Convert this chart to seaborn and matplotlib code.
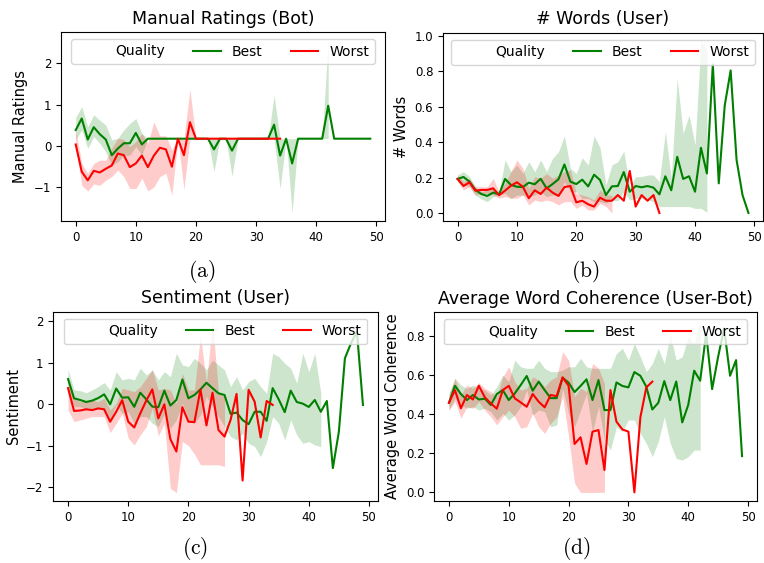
import numpy as np
import pandas as pd
import matplotlib
matplotlib.use("Agg")
import matplotlib.pyplot as plt
import seaborn as sns
from matplotlib.lines import Line2D

nan = np.nan

# ---------------- (a) Manual Ratings (Bot) ----------------
a_best = [0.38, 0.66, 0.15, 0.45, 0.28, 0.15, -0.23, -0.07, 0.06, 0.06,
          0.31, 0.03, 0.17, 0.17, 0.17, 0.17, 0.17, 0.17, 0.17, 0.17,
          0.17, 0.17, 0.17, -0.09, 0.17, 0.17, -0.12, 0.17, 0.17, 0.17,
          0.17, 0.17, 0.17, 0.51, -0.24, 0.17, -0.43, 0.17, 0.17, 0.17,
          0.17, 0.17, 0.97, 0.17, 0.17, 0.17, 0.17, 0.17, 0.17, 0.17]
a_best_lo = [0.15, 0.38, -0.06, 0.22, 0.06, -0.15, -0.47, -0.39, -0.23, -0.23,
             -0.02, -0.23, 0.17, 0.17, 0.17, 0.17, 0.17, 0.17, 0.17, 0.17,
             0.17, 0.17, 0.17, -0.63, 0.17, 0.17, -0.74, 0.17, 0.17, 0.17,
             0.17, 0.17, 0.17, 0.17, -1.04, 0.17, -1.63, 0.17, 0.17, 0.17,
             0.17, 0.17, 0.17, nan, nan, nan, nan, nan, nan, nan]
a_best_hi = [0.69, 0.95, 0.46, 0.75, 0.62, 0.50, 0.14, 0.18, 0.38, 0.54,
             0.66, 0.30, 0.17, 0.17, 0.17, 0.17, 0.17, 0.17, 0.17, 0.17,
             0.17, 0.17, 0.17, 0.17, 0.17, 0.17, 0.17, 0.17, 0.17, 0.17,
             0.17, 0.17, 0.17, 1.22, 0.17, 0.17, 0.17, 0.17, 0.17, 0.17,
             0.17, 0.17, 2.56, nan, nan, nan, nan, nan, nan, nan]
a_worst = [0.03, -0.63, -0.84, -0.61, -0.65, -0.56, -0.48, -0.19, -0.23, -0.52,
           -0.43, -0.24, -0.52, -0.24, -0.05, -0.09, -0.51, 0.17, -0.23, 0.57,
           0.17, 0.17, 0.17, 0.17, 0.17, 0.17, 0.17, 0.17, 0.17, 0.17,
           0.17, 0.17, 0.17, 0.17, 0.17]
a_worst_lo = [0.02, -0.96, -1.10, -0.93, -0.96, -0.84, -0.75, -0.59, -0.75, -1.04,
              -1.04, -0.79, -1.10, -1.00, -0.75, -0.67, -1.20, 0.17, -1.06, 0.17,
              0.17, 0.17, 0.17, 0.17, 0.17, 0.17, 0.17, nan, nan, nan,
              nan, nan, nan, nan, nan]
a_worst_hi = [0.38, -0.43, -0.67, -0.43, -0.35, -0.35, -0.06, 0.18, 0.15, -0.02,
              0.10, 0.30, 0.06, 0.58, 0.24, 0.24, -0.10, 0.17, 0.17, 1.37,
              0.17, 0.17, 0.17, 0.17, 0.17, 0.17, 0.17, nan, nan, nan,
              nan, nan, nan, nan, nan]

# ---------------- (b) # Words (User) ----------------
b_best = [0.192, 0.203, 0.177, 0.130, 0.107, 0.096, 0.115, 0.105, 0.192, 0.158,
          0.148, 0.146, 0.171, 0.162, 0.193, 0.139, 0.163, 0.190, 0.274, 0.177,
          0.163, 0.188, 0.150, 0.216, 0.186, 0.101, 0.150, 0.152, 0.231, 0.120,
          0.152, 0.145, 0.152, 0.143, 0.105, 0.207, 0.128, 0.317, 0.192, 0.207,
          0.120, 0.368, 0.223, 0.838, 0.167, 0.605, 0.804, 0.299, 0.101, 0.0]
b_best_lo = [0.177, 0.158, 0.148, 0.101, 0.079, 0.064, 0.092, 0.101, 0.111, 0.082,
             0.101, 0.101, 0.092, 0.101, 0.120, 0.092, 0.101, 0.101, 0.177, 0.120,
             0.120, 0.082, 0.082, 0.064, 0.064, 0.055, 0.073, 0.068, 0.120, 0.073,
             0.082, 0.082, 0.073, 0.064, 0.036, 0.036, 0.036, 0.036, 0.036, 0.036,
             0.026, 0.026, 0.004, nan, nan, nan, nan, nan, nan, nan]
b_best_hi = [0.215, 0.233, 0.205, 0.148, 0.120, 0.130, 0.139, 0.120, 0.299, 0.233,
             0.271, 0.223, 0.289, 0.233, 0.299, 0.233, 0.308, 0.345, 0.435, 0.252,
             0.223, 0.312, 0.271, 0.435, 0.368, 0.158, 0.271, 0.289, 0.349, 0.145,
             0.205, 0.205, 0.214, 0.214, 0.177, 0.458, 0.195, 0.759, 0.449, 0.552,
             0.383, 0.967, 0.920, nan, nan, nan, nan, nan, nan, nan]
b_worst = [0.192, 0.152, 0.173, 0.126, 0.130, 0.130, 0.139, 0.100, 0.126, 0.154,
           0.173, 0.148, 0.083, 0.128, 0.107, 0.143, 0.115, 0.096, 0.146, 0.152,
           0.060, 0.069, 0.049, 0.036, 0.086, 0.069, 0.069, 0.101, 0.069, 0.237,
           0.036, 0.101, 0.069, 0.101, 0.0]
b_worst_lo = [0.177, 0.130, 0.148, 0.101, 0.111, 0.111, 0.101, 0.083, 0.092, 0.083,
              0.083, 0.101, 0.045, 0.073, 0.064, 0.073, 0.064, 0.045, 0.064, 0.064,
              0.026, 0.045, 0.017, 0.017, 0.054, 0.036, 0.0, nan, nan, nan,
              nan, nan, nan, nan, nan]
b_worst_hi = [0.214, 0.177, 0.195, 0.148, 0.148, 0.148, 0.195, 0.120, 0.167, 0.233,
              0.299, 0.252, 0.139, 0.205, 0.195, 0.223, 0.195, 0.214, 0.233, 0.242,
              0.111, 0.101, 0.092, 0.073, 0.130, 0.101, 0.101, nan, nan, nan,
              nan, nan, nan, nan, nan]

# ---------------- (c) Sentiment (User) ----------------
c_best = [0.61, 0.145, 0.105, 0.056, 0.088, 0.15, 0.24, 0.0, 0.38, 0.16,
          0.17, -0.06, 0.28, 0.12, -0.056, -0.07, 0.33, -0.03, 0.105, 0.60,
          0.145, 0.225, 0.36, 0.52, 0.39, 0.265, 0.225, -0.23, -0.20, -0.38,
          -0.48, -0.18, -0.18, -0.40, 0.39, 0.12, -0.19, 0.33, 0.056, 0.016,
          -0.064, 0.105, -0.18, 0.08, -1.54, -0.66, 1.11, 1.47, 1.75, -0.016]
c_best_lo = [0.426, -0.056, -0.056, -0.12, -0.097, -0.097, -0.097, -0.378, -0.016, -0.217,
             -0.177, -0.459, -0.298, -0.298, -0.459, -0.539, -0.217, -0.579, -0.378, 0.024,
             -0.378, -0.459, -0.257, 0.185, -0.056, -0.298, -0.539, -0.78, -0.861, -0.70,
             -0.941, -1.02, -1.263, -0.90, -0.298, -0.459, -0.861, -0.378, -0.74, -0.941,
             -0.90, -0.981, -1.02, nan, nan, nan, nan, nan, nan, nan]
c_best_hi = [0.845, 0.346, 0.33, 0.28, 0.346, 0.426, 0.523, 0.346, 0.788, 0.587,
             0.628, 0.587, 0.869, 0.708, 0.829, 0.587, 0.788, 0.668, 1.231, 0.949,
             0.909, 1.11, 0.99, 0.829, 1.07, 0.949, 0.829, 0.426, 0.668, 0.346,
             0.547, 0.628, 0.426, 0.265, 1.231, 1.15, 0.99, 0.869, 0.507, 1.231,
             0.788, 1.231, 0.265, nan, nan, nan, nan, nan, nan, nan]
c_worst = [0.39, -0.16, -0.15, -0.12, -0.14, -0.10, -0.12, -0.42, -0.18, 0.10,
           -0.42, -0.56, -0.22, 0.09, 0.36, -0.34, 0.0, -0.84, -1.14, -0.07,
           -0.42, -0.43, 0.36, -0.51, 0.28, -0.62, -0.78, -0.38, 0.25, -1.84,
           0.35, 0.064, -0.80, 0.08, -0.016]
c_worst_lo = [-0.137, -0.418, -0.378, -0.338, -0.298, -0.298, -0.298, -0.684, -0.459, -0.217,
              -0.82, -0.981, -0.74, -0.539, -0.097, -0.764, -0.459, -2.03, -2.13, -0.90,
              -1.0, -1.2, -1.46, -1.46, -1.46, -1.46, -1.5, nan, nan, nan,
              nan, nan, nan, nan, nan]
c_worst_hi = [0.587, 0.145, 0.064, 0.064, 0.105, 0.064, 0.145, -0.137, 0.024, 0.386,
              0.346, 0.306, 0.426, 0.628, 0.829, 0.346, 0.386, 0.346, 0.024, 0.748,
              0.346, 0.346, 1.673, 0.507, 2.035, 0.265, 0.185, nan, nan, nan,
              nan, nan, nan, nan, nan]

# ---------------- (d) Average Word Coherence (User-Bot) ----------------
d_best = [0.457, 0.544, 0.502, 0.471, 0.497, 0.474, 0.478, 0.446, 0.502, 0.522,
          0.471, 0.505, 0.548, 0.594, 0.519, 0.565, 0.522, 0.481, 0.481, 0.585,
          0.560, 0.512, 0.543, 0.577, 0.471, 0.573, 0.420, 0.420, 0.561, 0.543,
          0.536, 0.614, 0.595, 0.539, 0.423, 0.457, 0.568, 0.471, 0.566, 0.357,
          0.446, 0.621, 0.570, 0.811, 0.527, 0.692, 0.837, 0.595, 0.675, 0.185]
d_best_lo = [0.420, 0.480, 0.446, 0.429, 0.437, 0.420, 0.429, 0.412, 0.369, 0.403,
             0.369, 0.395, 0.437, 0.522, 0.395, 0.420, 0.412, 0.335, 0.344, 0.531,
             0.403, 0.335, 0.420, 0.505, 0.310, 0.437, 0.267, 0.216, 0.335, 0.310,
             0.369, 0.369, 0.301, 0.250, 0.182, 0.259, 0.386, 0.250, 0.173, 0.165,
             0.182, 0.216, 0.216, nan, nan, nan, nan, nan, nan, nan]
d_best_hi = [0.505, 0.582, 0.548, 0.531, 0.548, 0.531, 0.522, 0.497, 0.539, 0.599,
             0.565, 0.675, 0.641, 0.633, 0.633, 0.675, 0.633, 0.616, 0.616, 0.624,
             0.641, 0.641, 0.684, 0.641, 0.633, 0.633, 0.633, 0.633, 0.709, 0.735,
             0.675, 0.760, 0.692, 0.616, 0.658, 0.735, 0.658, 0.803, 0.675, 0.692,
             0.794, 0.760, 0.875, nan, nan, nan, nan, nan, nan, nan]
d_worst = [0.457, 0.522, 0.429, 0.497, 0.474, 0.544, 0.485, 0.454, 0.427, 0.522,
           0.544, 0.480, 0.459, 0.437, 0.502, 0.463, 0.434, 0.497, 0.491, 0.587,
           0.544, 0.247, 0.281, 0.145, 0.310, 0.318, 0.114, 0.522, 0.361, 0.321,
           0.310, 0.0, 0.383, 0.536, 0.565]
d_worst_lo = [0.420, 0.463, 0.378, 0.437, 0.429, 0.463, 0.420, 0.386, 0.344, 0.386,
              0.420, 0.386, 0.327, 0.335, 0.403, 0.335, 0.301, 0.352, 0.386, 0.488,
              0.284, 0.046, 0.0, 0.0, 0.0, 0.0, 0.0, nan, nan, nan,
              nan, nan, nan, nan, nan]
d_worst_hi = [0.497, 0.582, 0.497, 0.548, 0.531, 0.560, 0.531, 0.514, 0.488, 0.590,
              0.641, 0.565, 0.522, 0.531, 0.590, 0.573, 0.539, 0.573, 0.590, 0.718,
              0.675, 0.488, 0.531, 0.514, 0.658, 0.633, 0.556, nan, nan, nan,
              nan, nan, nan, nan, nan]

quality_levels = ["Best", "Worst"]
palette = {"Best": "green", "Worst": "red"}

plt.rcParams["mathtext.fontset"] = "cm"

W, H = 764, 563
fig = plt.figure(figsize=(W / 100, H / 100), dpi=100)


def axes_px(left, top, right, bottom):
    return fig.add_axes([left / W, 1 - bottom / H, (right - left) / W, (bottom - top) / H])


def draw_panel(ax, series, title, ylabel, ylim):
    for level, (mean, lo, hi) in zip(quality_levels, series):
        turns = np.arange(len(mean))
        df = pd.DataFrame({"Turn": turns, "Value": mean, "Quality": level})
        sns.lineplot(data=df, x="Turn", y="Value", color=palette[level],
                     linewidth=1.5, ax=ax)
        ax.fill_between(np.arange(len(lo)), lo, hi, color=palette[level],
                        alpha=0.2, linewidth=0)
    ax.set_xlim(-2.45, 51.45)
    ax.set_ylim(*ylim)
    ax.set_title(title, fontsize=12.5)
    ax.set_ylabel(ylabel, fontsize=10.5)
    ax.set_xlabel("")
    ax.tick_params(labelsize=8.5)
    handles = [Line2D([], [], color="none"),
               Line2D([], [], color=palette["Best"], linewidth=1.5),
               Line2D([], [], color=palette["Worst"], linewidth=1.5)]
    ax.legend(handles, ["Quality", "Best", "Worst"], ncol=3,
              loc="upper center", fontsize=10)


ax_a = axes_px(61, 32, 385, 221.3)
ax_b = axes_px(443, 32.7, 763, 221.3)
ax_c = axes_px(53.3, 311.7, 377.7, 501)
ax_d = axes_px(434.3, 312.3, 756.7, 501)

draw_panel(ax_a, [(a_best, a_best_lo, a_best_hi), (a_worst, a_worst_lo, a_worst_hi)],
           "Manual Ratings (Bot)", "Manual Ratings", (-1.835, 2.76))
draw_panel(ax_b, [(b_best, b_best_lo, b_best_hi), (b_worst, b_worst_lo, b_worst_hi)],
           "# Words (User)", "# Words", (-0.047, 1.017))
draw_panel(ax_c, [(c_best, c_best_lo, c_best_hi), (c_worst, c_worst_lo, c_worst_hi)],
           "Sentiment (User)", "Sentiment", (-2.334, 2.235))
draw_panel(ax_d, [(d_best, d_best_lo, d_best_hi), (d_worst, d_worst_lo, d_worst_hi)],
           "Average Word Coherence (User-Bot)", "Average Word Coherence", (-0.044, 0.919))

# sub-figure captions
for label, (cx, cy) in zip(["(a)", "(b)", "(c)", "(d)"],
                           [(202, 271.5), (585, 271.5), (194.7, 549), (576, 549)]):
    fig.text(cx / W, 1 - cy / H, r"$\mathrm{%s}$" % label, fontsize=15.5,
             ha="center", va="center")

fig.savefig("out.png", dpi=100)
